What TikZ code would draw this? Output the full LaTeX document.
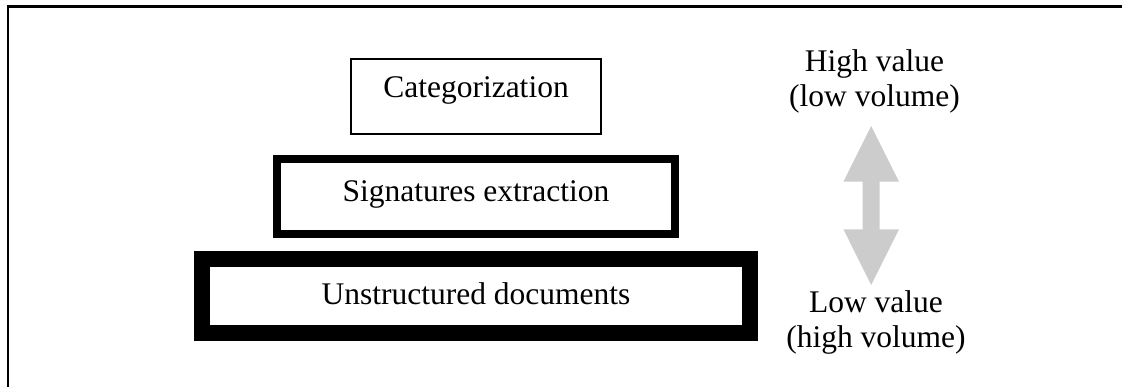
\documentclass[tikz,border=0pt]{standalone}
\usepackage{fontspec}
\setmainfont{Liberation Serif}
\definecolor{arrowgray}{RGB}{204,204,204}
\begin{document}
\begin{tikzpicture}[x=1pt,y=-1pt,
  lvl/.style={draw=black, fill=white, inner sep=0pt, font=\fontsize{31.5}{35}\selectfont},
  side/.style={align=center, inner sep=0pt, font=\fontsize{31.5}{35}\selectfont}]
\useasboundingbox (0,0) rectangle (1122,387);
\draw[line width=2.3pt] (8,387) -- (8,6.5) -- (1122,6.5);
\node[lvl, line width=1.2pt, minimum width=250pt, minimum height=75pt, text height=22pt, text depth=19pt] (cat) at (476,96.5) {Categorization};
\node[lvl, line width=8pt, minimum width=398pt, minimum height=75pt, text height=22pt, text depth=11.6pt] (sig) at (476,196.5) {Signatures extraction};
\node[lvl, line width=16pt, minimum width=548pt, minimum height=74pt, text height=25pt, text depth=7pt] (doc) at (476,296) {Unstructured documents};
\coordinate (up) at (871.2,126);
\coordinate (dn) at (871.2,285);
\fill[arrowgray] (up) -- ++(27.8,55.7) -- ++(-19.3,0) -- ++(0,47.6) -- ++(19.3,0) -- (dn)
  -- ++(-27.8,-55.7) -- ++(19.3,0) -- ++(0,-47.6) -- ++(-19.3,0) -- cycle;
\node[side] (hi) at (874.5,81.2) {High value\\(low volume)};
\node[side] (lo) at (876,322.5) {Low value\\(high volume)};
\end{tikzpicture}
\end{document}
